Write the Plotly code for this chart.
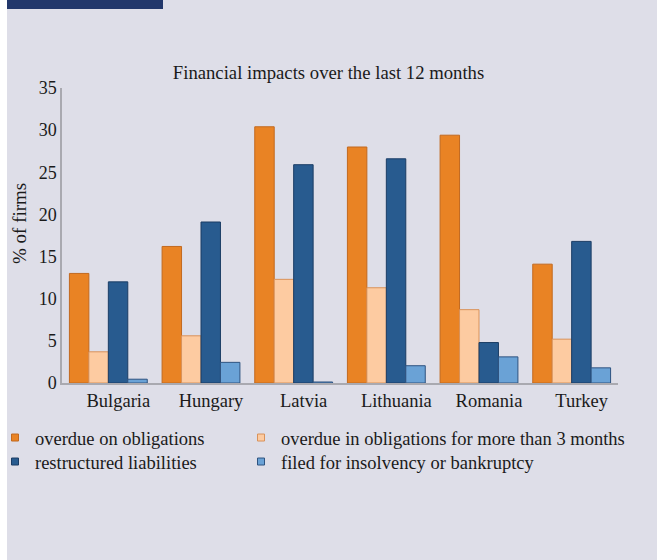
import plotly.graph_objects as go

countries = ["Bulgaria", "Hungary", "Latvia", "Lithuania", "Romania", "Turkey"]
overdue = [13.0, 16.2, 30.4, 28.0, 29.4, 14.1]
overdue_3m = [3.7, 5.6, 12.3, 11.3, 8.7, 5.2]
restructured = [12.0, 19.1, 25.9, 26.6, 4.8, 16.8]
insolvency = [0.45, 2.45, 0.12, 2.05, 3.1, 1.8]

series_names = [
    "overdue on obligations",
    "overdue in obligations for more than 3 months",
    "restructured liabilities",
    "filed for insolvency or bankruptcy",
]
series_values = [overdue, overdue_3m, restructured, insolvency]
fill_colors = ["#e98324", "#fdcba1", "#285b8f", "#6aa2d6"]
line_colors = ["#c2691f", "#d9925a", "#1b3d65", "#2e5380"]
legend_ids = ["legend", "legend2", "legend3", "legend4"]

FONT = "Liberation Serif"
TXT = "#1a1a1a"
W, H = 657, 560
L, R, T, B = 62, 39, 88, 177
PW, PH = W - L - R, H - T - B


def fx(px):
    return (px - L) / PW


def fy(py):
    return (H - B - py) / PH


fig = go.Figure()
for name, vals, fc, lc in zip(series_names, series_values, fill_colors, line_colors):
    fig.add_trace(go.Bar(
        x=countries, y=vals, name=name,
        marker=dict(color=fc, line=dict(color=lc, width=1)),
        showlegend=False,
    ))

# legend proxies (small square swatches)
for name, fc, lc, lid in zip(series_names, fill_colors, line_colors, legend_ids):
    fig.add_trace(go.Scatter(
        x=[None], y=[None], mode="markers", name=name,
        marker=dict(symbol="square", size=7, color=fc, line=dict(color=lc, width=1)),
        legend=lid, showlegend=True,
    ))

col_x = [fx(-5), fx(241)]
row_y = [fy(438), fy(462)]
positions = [(col_x[0], row_y[0]), (col_x[1], row_y[0]), (col_x[0], row_y[1]), (col_x[1], row_y[1])]
legend_layout = {}
for lid, (lx, ly) in zip(legend_ids, positions):
    legend_layout[lid] = dict(
        x=lx, y=ly, xanchor="left", yanchor="middle",
        bgcolor="rgba(0,0,0,0)", font=dict(family=FONT, size=18.5, color=TXT),
    )

fig.update_layout(
    width=W, height=H,
    margin=dict(l=L, r=R, t=T, b=B, autoexpand=False),
    paper_bgcolor="#dedee8",
    plot_bgcolor="rgba(0,0,0,0)",
    barmode="group", bargap=0.16, bargroupgap=0,
    font=dict(family=FONT, size=18, color=TXT),
    title=dict(text="Financial impacts over the last 12 months", x=0.5, xanchor="center",
               y=1 - 72 / H, yanchor="middle", font=dict(family=FONT, size=18.7, color=TXT)),
    xaxis=dict(showline=True, linecolor="#a9a9b0", linewidth=1.5, ticks="",
               showgrid=False, ticklabelshift=10,
               tickfont=dict(family=FONT, size=18.5, color=TXT)),
    yaxis=dict(range=[0, 35], dtick=5, showline=True, linecolor="#a9a9b0", linewidth=1.5,
               ticks="", showgrid=False, zeroline=False,
               tickfont=dict(family=FONT, size=18, color=TXT)),
    **legend_layout,
)

# y-axis title
fig.add_annotation(text="% of firms", xref="paper", yref="paper", x=fx(20), y=fy(224),
                   textangle=-90, showarrow=False, xanchor="center", yanchor="middle",
                   font=dict(family=FONT, size=19, color=TXT))

# white left strip and header box
fig.add_shape(type="rect", xref="paper", yref="paper", x0=fx(0), x1=fx(7), y0=fy(H), y1=fy(0),
              fillcolor="#ffffff", line=dict(width=0), layer="below")
fig.add_shape(type="rect", xref="paper", yref="paper", x0=fx(7), x1=fx(163), y0=fy(9), y1=fy(0),
              fillcolor="#22376b", line=dict(width=0), layer="below")

fig.write_html("out.html", config={"displayModeBar": False},
               post_script="document.body.style.margin='0';")
